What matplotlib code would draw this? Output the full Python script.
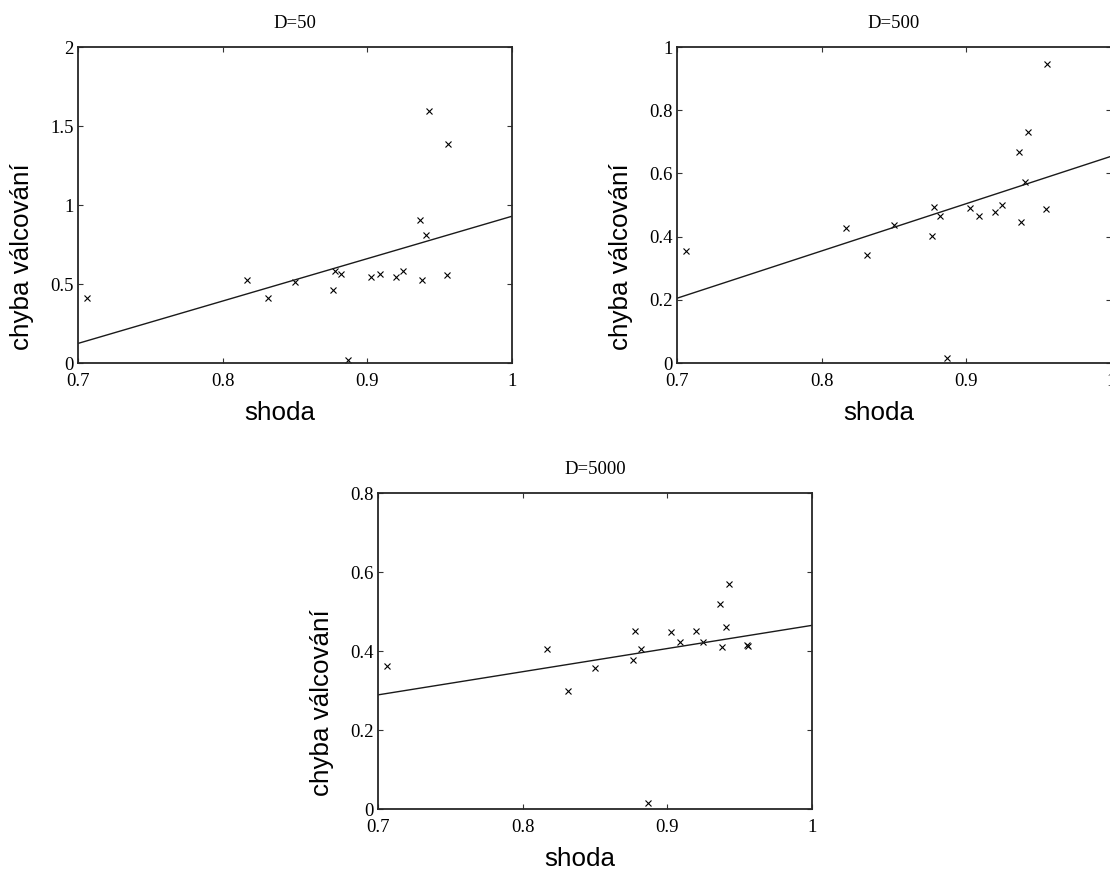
import matplotlib
matplotlib.use("Agg")
import matplotlib.pyplot as plt
from matplotlib.ticker import FuncFormatter

# shoda (x) - stejne pro vsechny tri grafy
shoda = [0.7065, 0.8167, 0.8315, 0.8497, 0.8760, 0.8778, 0.8818, 0.8867, 0.9028,
         0.9088, 0.9198, 0.9244, 0.9367, 0.9376, 0.9407, 0.9426, 0.9549, 0.9555]

# chyba valcovani pro D=50, D=500, D=5000
chyba_50 = [0.409, 0.525, 0.409, 0.514, 0.462, 0.582, 0.561, 0.019, 0.546,
            0.563, 0.546, 0.580, 0.906, 0.525, 0.813, 1.595, 0.554, 1.383]
chyba_500 = [0.353, 0.426, 0.341, 0.436, 0.402, 0.495, 0.466, 0.017, 0.491,
             0.464, 0.478, 0.501, 0.669, 0.445, 0.574, 0.731, 0.487, 0.946]
chyba_5000 = [0.362, 0.405, 0.299, 0.358, 0.378, 0.450, 0.406, 0.016, 0.449,
              0.423, 0.450, 0.422, 0.520, 0.410, 0.460, 0.569, 0.416, 0.414]

# primky (koncove body)
primka_x = [0.7, 1.0]
primka_50 = [0.124, 0.929]
primka_500 = [0.205, 0.654]
primka_5000 = [0.289, 0.465]

tituly = ["D=50", "D=500", "D=5000"]
ylimity = [(0, 2), (0, 1), (0, 0.8)]
yticky = [[0, 0.5, 1, 1.5, 2], [0, 0.2, 0.4, 0.6, 0.8, 1], [0, 0.2, 0.4, 0.6, 0.8]]
xticky = [0.7, 0.8, 0.9, 1]

fig = plt.figure(figsize=(11.1, 8.72), dpi=100)
pozice = [[0.0703, 0.5837, 0.391, 0.3624],
          [0.6099, 0.5837, 0.391, 0.3624],
          [0.3405, 0.0722, 0.391, 0.3624]]

data = [(chyba_50, primka_50), (chyba_500, primka_500), (chyba_5000, primka_5000)]

fmt = FuncFormatter(lambda v, p: "%g" % round(v, 3))

for i in range(3):
    ax = fig.add_axes(pozice[i])
    y, py = data[i]
    ax.plot(shoda, y, "x", color="black", markersize=4.5, markeredgewidth=0.8)
    ax.plot(primka_x, py, "-", color="#1a1a1a", linewidth=1.0)
    ax.set_xlim(0.7, 1.0)
    ax.set_ylim(*ylimity[i])
    ax.set_xticks(xticky)
    ax.set_yticks(yticky[i])
    ax.xaxis.set_major_formatter(fmt)
    ax.yaxis.set_major_formatter(fmt)
    ax.tick_params(direction="in", top=True, right=True, length=3.5, width=0.8,
                   color="#333333", labelsize=13.5)
    ax.tick_params(axis="x", pad=7)
    ax.tick_params(axis="y", pad=3)
    for lab in ax.get_xticklabels() + ax.get_yticklabels():
        lab.set_family("Liberation Serif")
    for s in ax.spines.values():
        s.set_linewidth(1.3)
        s.set_color("#262626")
    ax.set_title(tituly[i], family="Liberation Serif", fontsize=13.5, pad=14)
    ax.set_xlabel("shoda", family="Liberation Sans", fontsize=18.7)
    ax.set_ylabel("chyba válcování", family="Liberation Sans", fontsize=18.7)
    ax.xaxis.set_label_coords(0.465, -0.12)
    ax.yaxis.set_label_coords(-0.102, 0.337)

plt.savefig("out.png", dpi=100)
